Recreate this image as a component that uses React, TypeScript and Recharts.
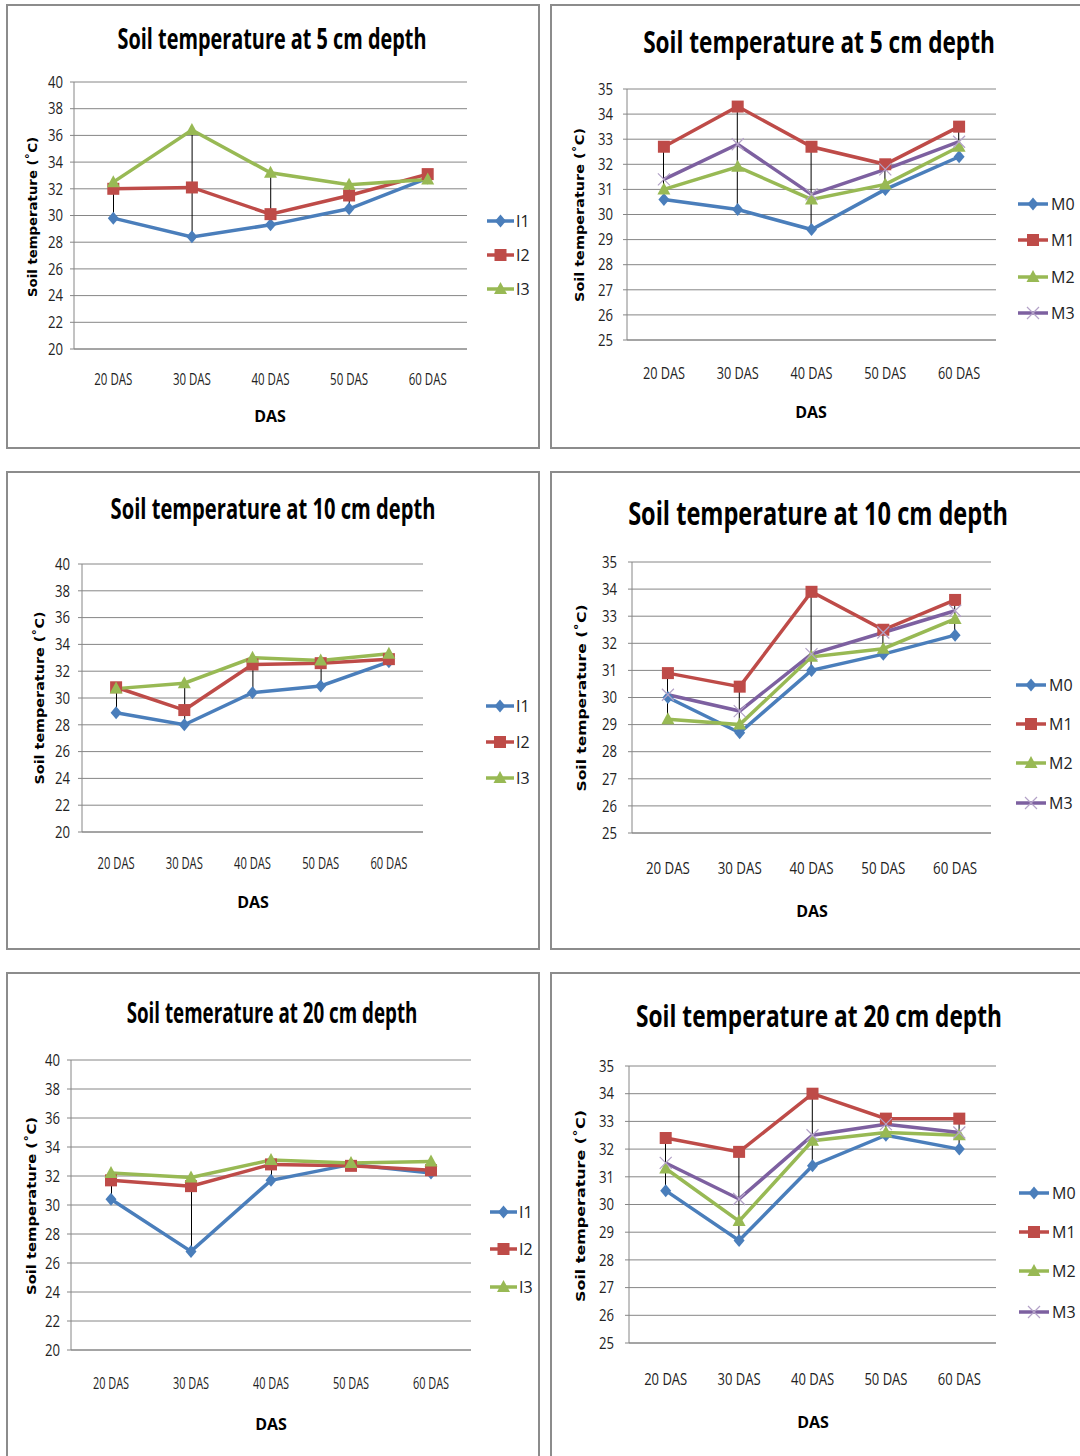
import React, { useLayoutEffect, useRef, useState } from "react";
import { ComposedChart, Line, Bar, XAxis, YAxis, CartesianGrid } from "recharts";

const days = ["20 DAS", "30 DAS", "40 DAS", "50 DAS", "60 DAS"];
const iNames = ["I1", "I2", "I3"];
const mNames = ["M0", "M1", "M2", "M3"];
const iTicks = [20, 22, 24, 26, 28, 30, 32, 34, 36, 38, 40];
const mTicks = [25, 26, 27, 28, 29, 30, 31, 32, 33, 34, 35];

// 5 cm
const i1_5 = [29.8, 28.4, 29.3, 30.5, 32.8];
const i2_5 = [32.0, 32.1, 30.1, 31.5, 33.1];
const i3_5 = [32.5, 36.4, 33.2, 32.3, 32.7];
const m0_5 = [30.6, 30.2, 29.4, 31.0, 32.3];
const m1_5 = [32.7, 34.3, 32.7, 32.0, 33.5];
const m2_5 = [31.0, 31.9, 30.6, 31.2, 32.7];
const m3_5 = [31.4, 32.8, 30.8, 31.8, 32.9];
// 10 cm
const i1_10 = [28.9, 28.0, 30.4, 30.9, 32.7];
const i2_10 = [30.8, 29.1, 32.5, 32.6, 32.9];
const i3_10 = [30.7, 31.1, 33.0, 32.8, 33.3];
const m0_10 = [30.0, 28.7, 31.0, 31.6, 32.3];
const m1_10 = [30.9, 30.4, 33.9, 32.5, 33.6];
const m2_10 = [29.2, 29.0, 31.5, 31.8, 32.9];
const m3_10 = [30.1, 29.5, 31.6, 32.4, 33.2];
// 20 cm
const i1_20 = [30.4, 26.8, 31.7, 32.8, 32.2];
const i2_20 = [31.7, 31.3, 32.8, 32.7, 32.4];
const i3_20 = [32.2, 31.9, 33.1, 32.9, 33.0];
const m0_20 = [30.5, 28.7, 31.4, 32.5, 32.0];
const m1_20 = [32.4, 31.9, 34.0, 33.1, 33.1];
const m2_20 = [31.3, 29.4, 32.3, 32.6, 32.5];
const m3_20 = [31.5, 30.2, 32.5, 32.9, 32.6];

const COLORS = ["#4a7ebb", "#be4b48", "#98b954", "#7d60a0"];
const SHAPES = ["diamond", "square", "triangle", "cross"];
const NARROW = "'Liberation Sans Narrow', 'Arial Narrow', 'Open Sans', sans-serif";
const BOLDY = "'DejaVu Sans', Verdana, sans-serif";
const GRID = "#868686";
const PAGE_W = 1080;

const Marker = ({ shape, cx, cy, color }: any) => {
  if (cx == null || cy == null) return null;
  if (shape === "diamond")
    return <path d={`M${cx},${cy - 6.5}L${cx + 5.5},${cy}L${cx},${cy + 6.5}L${cx - 5.5},${cy}Z`} fill={color} />;
  if (shape === "square")
    return <rect x={cx - 6} y={cy - 6} width={12} height={12} fill={color} />;
  if (shape === "triangle")
    return <path d={`M${cx},${cy - 7}L${cx + 6.5},${cy + 5}L${cx - 6.5},${cy + 5}Z`} fill={color} />;
  return (
    <path
      d={`M${cx - 6},${cy - 6}L${cx + 6},${cy + 6}M${cx - 6},${cy + 6}L${cx + 6},${cy - 6}`}
      stroke="#b3a2c7"
      strokeWidth={1.2}
      fill="none"
    />
  );
};

// squeezes a text horizontally so that it spans `len` pixels, centred on x
const FitText = ({ x, y, len, children, ...rest }: any) => {
  const ref = useRef<SVGTextElement>(null);
  const [sx, setSx] = useState(1);
  useLayoutEffect(() => {
    if (ref.current) {
      const w = ref.current.getComputedTextLength();
      if (w > 0) setSx(len / w);
    }
  }, [len]);
  return (
    <g transform={`translate(${x},${y}) scale(${sx},1)`}>
      <text ref={ref} x={0} y={0} textAnchor="middle" {...rest}>
        {children}
      </text>
    </g>
  );
};

type Cfg = {
  box: { x: number; y: number; w: number; h: number };
  plot: { l: number; t: number; r: number; b: number };
  title: { text: string; cx: number; base: number; len: number; size: number };
  yLab: { cx: number; cy: number; len: number };
  das: { cx: number; cy: number };
  xTick: { cy: number; len: number };
  yTickRight: number;
  legend: { x0: number; x1: number; tx: number; ys: number[] };
  names: string[];
  series: number[][];
  ticks: number[];
};

const Panel = ({ c }: { c: Cfg }) => {
  const { box, plot } = c;
  const rows = days.map((d, i) => {
    const row: any = { day: d };
    const vals = c.series.map((s) => s[i]);
    c.series.forEach((s, k) => (row["s" + k] = s[i]));
    row.range = [Math.min(...vals), Math.max(...vals)];
    return row;
  });
  const yAxisW = plot.l - box.x;
  const xAxisH = box.y + box.h - plot.b;
  const visW = Math.min(box.w, PAGE_W - box.x);

  const yTick = (p: any) => (
    <text
      x={c.yTickRight - box.x}
      y={p.y}
      dy="0.36em"
      textAnchor="end"
      fontFamily={NARROW}
      fontSize={16}
      fill="#222"
      textLength={15}
      lengthAdjust="spacingAndGlyphs"
    >
      {p.payload.value}
    </text>
  );
  const xTick = (p: any) => (
    <text
      x={p.x - c.xTick.len / 2}
      y={c.xTick.cy - box.y}
      dy="0.36em"
      fontFamily={NARROW}
      fontSize={16}
      fill="#222"
      textLength={c.xTick.len}
      lengthAdjust="spacingAndGlyphs"
    >
      {p.payload.value}
    </text>
  );

  return (
    <>
      <div
        style={{
          position: "absolute",
          left: box.x,
          top: box.y,
          width: box.w,
          height: box.h,
          border: "2px solid #8c8c8c",
          boxSizing: "border-box",
          background: "#fff",
        }}
      />
      <div style={{ position: "absolute", left: box.x, top: box.y }}>
        <ComposedChart
          width={box.w}
          height={box.h}
          data={rows}
          margin={{ top: plot.t - box.y, right: box.x + box.w - plot.r, bottom: 0, left: 0 }}
        >
          <CartesianGrid vertical={false} stroke={GRID} strokeWidth={1} />
          <XAxis
            dataKey="day"
            height={xAxisH}
            tickLine={false}
            tickSize={0}
            tickMargin={0}
            axisLine={{ stroke: GRID }}
            tick={xTick}
            interval={0}
          />
          <YAxis
            width={yAxisW}
            domain={[c.ticks[0], c.ticks[c.ticks.length - 1]]}
            ticks={c.ticks}
            interval={0}
            tickSize={4}
            tickLine={{ stroke: GRID }}
            axisLine={{ stroke: GRID }}
            tick={yTick}
          />
          <Bar dataKey="range" barSize={1} fill="#000" legendType="none" isAnimationActive={false} />
          {c.series.map((_, k) => (
            <Line
              key={k}
              type="linear"
              dataKey={"s" + k}
              stroke={COLORS[k]}
              strokeWidth={3.5}
              activeDot={false}
              isAnimationActive={false}
              dot={(p: any) => <Marker key={"d" + k + "-" + p.index} shape={SHAPES[k]} cx={p.cx} cy={p.cy} color={COLORS[k]} />}
            />
          ))}
        </ComposedChart>
      </div>
      <svg
        width={visW}
        height={box.h}
        style={{ position: "absolute", left: box.x, top: box.y, pointerEvents: "none" }}
      >
        <FitText
          x={c.title.cx - box.x}
          y={c.title.base - box.y}
          len={c.title.len}
          fontFamily={NARROW}
          fontWeight="bold"
          fontSize={c.title.size}
          fill="#000"
        >
          {c.title.text}
        </FitText>
        <text
          transform={`translate(${c.yLab.cx - box.x},${c.yLab.cy - box.y}) rotate(-90)`}
          x={-c.yLab.len / 2}
          y={0}
          dy="0.36em"
          fontFamily={BOLDY}
          fontWeight="bold"
          fontSize={12.5}
          fill="#000"
          textLength={c.yLab.len}
          lengthAdjust="spacingAndGlyphs"
        >
          Soil temperature (˚C)
        </text>
        <text
          x={c.das.cx - box.x}
          y={c.das.cy - box.y}
          dy="0.36em"
          textAnchor="middle"
          fontFamily={NARROW}
          fontWeight="bold"
          fontSize={16}
          fill="#000"
        >
          DAS
        </text>
        {c.names.map((n, k) => {
          const y = c.legend.ys[k] - box.y;
          const x0 = c.legend.x0 - box.x;
          const x1 = c.legend.x1 - box.x;
          return (
            <g key={n}>
              <line x1={x0} y1={y} x2={x1} y2={y} stroke={COLORS[k]} strokeWidth={3.5} />
              <Marker shape={SHAPES[k]} cx={(x0 + x1) / 2} cy={y} color={COLORS[k]} />
              <text x={c.legend.tx - box.x} y={y} dy="0.36em" fontFamily={NARROW} fontSize={16} fill="#222">
                {n}
              </text>
            </g>
          );
        })}
      </svg>
    </>
  );
};

const panels: Cfg[] = [
  {
    box: { x: 6, y: 4, w: 534, h: 445 },
    plot: { l: 74, t: 82, r: 467, b: 349 },
    title: { text: "Soil temperature at 5 cm depth", cx: 272, base: 49, len: 309, size: 28 },
    yLab: { cx: 32, cy: 217, len: 160 },
    das: { cx: 270, cy: 416 },
    xTick: { cy: 379, len: 38 },
    yTickRight: 63,
    legend: { x0: 487, x1: 514, tx: 516, ys: [221, 255, 289] },
    names: iNames,
    series: [i1_5, i2_5, i3_5],
    ticks: iTicks,
  },
  {
    box: { x: 550, y: 4, w: 540, h: 445 },
    plot: { l: 627, t: 89, r: 996, b: 340 },
    title: { text: "Soil temperature at 5 cm depth", cx: 819, base: 53, len: 352, size: 30 },
    yLab: { cx: 579, cy: 215, len: 174 },
    das: { cx: 811, cy: 412 },
    xTick: { cy: 373, len: 42 },
    yTickRight: 613,
    legend: { x0: 1018, x1: 1048, tx: 1051, ys: [204, 240, 277, 313] },
    names: mNames,
    series: [m0_5, m1_5, m2_5, m3_5],
    ticks: mTicks,
  },
  {
    box: { x: 6, y: 471, w: 534, h: 479 },
    plot: { l: 82, t: 564, r: 423, b: 832 },
    title: { text: "Soil temperature at 10 cm depth", cx: 273, base: 519, len: 325, size: 28 },
    yLab: { cx: 39, cy: 698, len: 173 },
    das: { cx: 253, cy: 902 },
    xTick: { cy: 863, len: 37 },
    yTickRight: 70,
    legend: { x0: 486, x1: 514, tx: 516, ys: [706, 742, 778] },
    names: iNames,
    series: [i1_10, i2_10, i3_10],
    ticks: iTicks,
  },
  {
    box: { x: 550, y: 471, w: 540, h: 479 },
    plot: { l: 632, t: 562, r: 991, b: 833 },
    title: { text: "Soil temperature at 10 cm depth", cx: 818, base: 525, len: 380, size: 32 },
    yLab: { cx: 581, cy: 698, len: 187 },
    das: { cx: 812, cy: 911 },
    xTick: { cy: 868, len: 44 },
    yTickRight: 617,
    legend: { x0: 1016, x1: 1046, tx: 1049, ys: [685, 724, 763, 803] },
    names: mNames,
    series: [m0_10, m1_10, m2_10, m3_10],
    ticks: mTicks,
  },
  {
    box: { x: 6, y: 972, w: 534, h: 500 },
    plot: { l: 71, t: 1060, r: 471, b: 1350 },
    title: { text: "Soil temerature at 20 cm depth", cx: 272, base: 1023, len: 291, size: 29 },
    yLab: { cx: 31, cy: 1206, len: 178 },
    das: { cx: 271, cy: 1424 },
    xTick: { cy: 1383, len: 36 },
    yTickRight: 60,
    legend: { x0: 490, x1: 517, tx: 519, ys: [1212, 1249, 1287] },
    names: iNames,
    series: [i1_20, i2_20, i3_20],
    ticks: iTicks,
  },
  {
    box: { x: 550, y: 972, w: 540, h: 500 },
    plot: { l: 629, t: 1066, r: 996, b: 1343 },
    title: { text: "Soil temperature at 20 cm depth", cx: 819, base: 1027, len: 366, size: 31 },
    yLab: { cx: 580, cy: 1206, len: 192 },
    das: { cx: 813, cy: 1422 },
    xTick: { cy: 1379, len: 43 },
    yTickRight: 614,
    legend: { x0: 1019, x1: 1049, tx: 1052, ys: [1193, 1232, 1271, 1312] },
    names: mNames,
    series: [m0_20, m1_20, m2_20, m3_20],
    ticks: mTicks,
  },
];

export default function App() {
  return (
    <div
      style={{
        position: "absolute",
        left: 0,
        top: 0,
        width: PAGE_W,
        height: 1456,
        background: "#fff",
        overflow: "hidden",
      }}
    >
      {panels.map((c, i) => (
        <Panel key={i} c={c} />
      ))}
    </div>
  );
}
